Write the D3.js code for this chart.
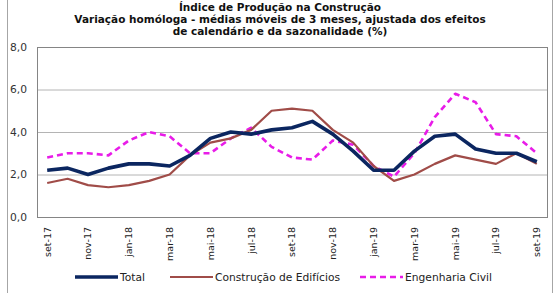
<!DOCTYPE html>
<html>
<head>
<meta charset="utf-8">
<script src="https://cdn.jsdelivr.net/npm/d3@7"></script>
<style>
  body { margin: 0; background: #fff; }
  svg { display: block; }
</style>
</head>
<body>
<svg id="chart" width="560" height="293"></svg>
<script>
let width = 560;
let height = 293;
let margins = {top: 47, bottom: 76, left: 37, right: 13};

// monthly data, set-17 .. set-19
const months = ["set-17","out-17","nov-17","dez-17","jan-18","fev-18","mar-18","abr-18","mai-18",
	"jun-18","jul-18","ago-18","set-18","out-18","nov-18","dez-18","jan-19","fev-19","mar-19",
	"abr-19","mai-19","jun-19","jul-19","ago-19","set-19"];
const tickMonths = ["set-17","nov-17","jan-18","mar-18","mai-18","jul-18","set-18","nov-18",
	"jan-19","mar-19","mai-19","jul-19","set-19"];
const total = [2.2, 2.3, 2.0, 2.3, 2.5, 2.5, 2.4, 2.9, 3.7, 4.0, 3.9, 4.1, 4.2,
	4.5, 3.9, 3.1, 2.2, 2.2, 3.1, 3.8, 3.9, 3.2, 3.0, 3.0, 2.6];
const edificios = [1.6, 1.8, 1.5, 1.4, 1.5, 1.7, 2.0, 2.9, 3.5, 3.7, 4.1, 5.0, 5.1,
	5.0, 4.1, 3.5, 2.4, 1.7, 2.0, 2.5, 2.9, 2.7, 2.5, 3.0, 2.5];
const engenharia = [2.8, 3.0, 3.0, 2.9, 3.6, 4.0, 3.8, 3.0, 3.0, 3.7, 4.2, 3.3, 2.8,
	2.7, 3.6, 3.4, 2.4, 1.9, 3.0, 4.7, 5.8, 5.4, 3.9, 3.8, 3.0];
const yTicks = [0, 2, 4, 6, 8];
const titleLines = ["Índice de Produção na Construção",
	"Variação homóloga - médias móveis de 3 meses, ajustada dos efeitos",
	"de calendário e da sazonalidade (%)"];

const series = [
	{name: "Total", values: total, color: "#0b2660", width: 3.6, dash: null},
	{name: "Construção de Edifícios", values: edificios, color: "#a04c48", width: 2.2, dash: null},
	{name: "Engenharia Civil", values: engenharia, color: "#e81ce8", width: 2.6, dash: "6,4"}
];

function make_scales() {
	return {
		x: d3.scaleBand()
			.domain(months)
			.range([margins.left, width - margins.right]),
		y: d3.scaleLinear()
			.domain([0, 8])
			.range([height - margins.bottom, margins.top])
	};
}

function draw(scales) {
	const svg = d3.select("#chart");
	const fmt = d => d3.format(".1f")(d).replace(".", ",");
	const xc = m => scales.x(m) + scales.x.bandwidth() / 2;

	// outer chart border
	svg.append("rect")
		.attr("x", 7.5).attr("y", -2)
		.attr("width", 545).attr("height", 300)
		.attr("fill", "none").attr("stroke", "#a6a6a6");

	// title
	svg.append("g").selectAll("text")
		.data(titleLines).enter()
		.append("text")
		.attr("x", 280)
		.attr("y", (d, i) => 11 + i * 11.8)
		.attr("text-anchor", "middle")
		.style("font-family", "DejaVu Sans")
		.style("font-weight", "bold")
		.style("font-size", "10.5px")
		.attr("fill", "#111")
		.text(d => d);

	// gridlines
	svg.append("g").selectAll("line")
		.data(yTicks.slice(1, -1)).enter()
		.append("line")
		.attr("x1", margins.left).attr("x2", width - margins.right)
		.attr("y1", d => scales.y(d) + 0.5).attr("y2", d => scales.y(d) + 0.5)
		.attr("stroke", "#b4b4b4");

	// plot frame
	svg.append("rect")
		.attr("x", margins.left + 0.5).attr("y", margins.top + 0.5)
		.attr("width", width - margins.left - margins.right)
		.attr("height", height - margins.top - margins.bottom)
		.attr("fill", "none").attr("stroke", "#858585");

	// y axis
	const yAxis = d3.axisLeft(scales.y).tickValues(yTicks).tickFormat(fmt).tickSize(0).tickPadding(0);
	const gy = svg.append("g").attr("transform", "translate(27,0)").call(yAxis);
	gy.select(".domain").remove();
	gy.selectAll("text")
		.style("font-family", "DejaVu Sans").style("font-size", "10.7px").attr("fill", "#333");

	// x axis
	const xAxis = d3.axisBottom(scales.x).tickValues(tickMonths).tickSize(0).tickPadding(0);
	const gx = svg.append("g").attr("transform", "translate(0," + (height - margins.bottom) + ")").call(xAxis);
	gx.select(".domain").remove();
	gx.selectAll("text")
		.attr("transform", "rotate(-90)")
		.attr("x", -10).attr("y", 0).attr("dy", "0.35em")
		.attr("text-anchor", "end")
		.style("font-family", "DejaVu Sans").style("font-size", "9.5px").attr("fill", "#222");

	// lines
	const line = d3.line()
		.x((d, i) => xc(months[i]))
		.y(d => scales.y(d));
	svg.append("g").selectAll("path")
		.data(series.slice().reverse()).enter()
		.append("path")
		.attr("d", d => line(d.values))
		.attr("fill", "none")
		.attr("stroke", d => d.color)
		.attr("stroke-width", d => d.width)
		.attr("stroke-dasharray", d => d.dash)
		.attr("stroke-linejoin", "round");

	// legend
	const legX = [75, 170, 360];
	const leg = svg.append("g").selectAll("g")
		.data(series).enter()
		.append("g")
		.attr("transform", (d, i) => "translate(" + legX[i] + ",277)");
	leg.append("line")
		.attr("x1", 0).attr("x2", 43)
		.attr("stroke", d => d.color)
		.attr("stroke-width", d => d.width)
		.attr("stroke-dasharray", d => d.dash);
	leg.append("text")
		.attr("x", 45).attr("dy", "0.35em")
		.style("font-family", "DejaVu Sans").style("font-size", "10.7px").attr("fill", "#222")
		.text(d => d.name);
}

draw(make_scales());
</script>
</body>
</html>
